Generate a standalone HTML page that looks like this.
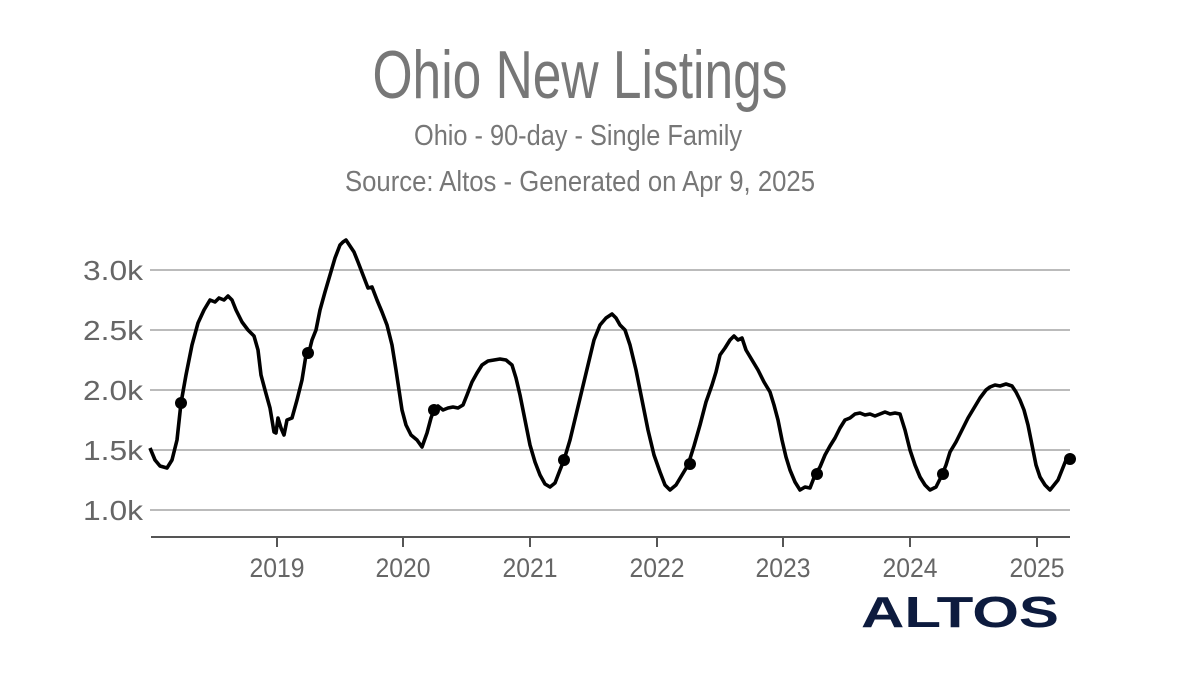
<!DOCTYPE html>
<html><head><meta charset="utf-8"><style>html,body{margin:0;padding:0;background:#fff;}svg{display:block}</style></head>
<body>
<svg width="1200" height="676" viewBox="0 0 1200 676" xmlns="http://www.w3.org/2000/svg" font-family="'Liberation Sans Narrow','Liberation Sans',sans-serif">
<text x="580" y="98" text-anchor="middle" font-size="68" fill="#777" textLength="415" lengthAdjust="spacingAndGlyphs">Ohio New Listings</text>
<text x="578" y="145" text-anchor="middle" font-size="29" fill="#777" textLength="328" lengthAdjust="spacingAndGlyphs">Ohio - 90-day - Single Family</text>
<text x="580" y="191" text-anchor="middle" font-size="29" fill="#777" textLength="470" lengthAdjust="spacingAndGlyphs">Source: Altos - Generated on Apr 9, 2025</text>
<g stroke="#bbb" stroke-width="2">
<line x1="150" y1="270" x2="1070" y2="270"/><line x1="150" y1="330" x2="1070" y2="330"/><line x1="150" y1="390" x2="1070" y2="390"/><line x1="150" y1="450" x2="1070" y2="450"/><line x1="150" y1="510" x2="1070" y2="510"/>
</g>
<g font-size="28" fill="#666" text-anchor="end">
<text x="143" y="280" textLength="60" lengthAdjust="spacingAndGlyphs">3.0k</text>
<text x="143" y="340" textLength="60" lengthAdjust="spacingAndGlyphs">2.5k</text>
<text x="143" y="400" textLength="60" lengthAdjust="spacingAndGlyphs">2.0k</text>
<text x="143" y="460" textLength="60" lengthAdjust="spacingAndGlyphs">1.5k</text>
<text x="143" y="520" textLength="60" lengthAdjust="spacingAndGlyphs">1.0k</text>
</g>
<line x1="151" y1="537" x2="1070" y2="537" stroke="#555" stroke-width="2"/>
<g stroke="#555" stroke-width="2">
<line x1="277" y1="537" x2="277" y2="547"/><line x1="403" y1="537" x2="403" y2="547"/><line x1="530" y1="537" x2="530" y2="547"/><line x1="657" y1="537" x2="657" y2="547"/><line x1="783" y1="537" x2="783" y2="547"/><line x1="910" y1="537" x2="910" y2="547"/><line x1="1037" y1="537" x2="1037" y2="547"/>
</g>
<g font-size="27" fill="#666" text-anchor="middle">
<text x="277" y="577" textLength="55" lengthAdjust="spacingAndGlyphs">2019</text>
<text x="403" y="577" textLength="55" lengthAdjust="spacingAndGlyphs">2020</text>
<text x="530" y="577" textLength="55" lengthAdjust="spacingAndGlyphs">2021</text>
<text x="657" y="577" textLength="55" lengthAdjust="spacingAndGlyphs">2022</text>
<text x="783" y="577" textLength="55" lengthAdjust="spacingAndGlyphs">2023</text>
<text x="910" y="577" textLength="55" lengthAdjust="spacingAndGlyphs">2024</text>
<text x="1037" y="577" textLength="55" lengthAdjust="spacingAndGlyphs">2025</text>
</g>
<polyline fill="none" stroke="#000" stroke-width="3.6" stroke-linejoin="round" points="150,448 155,460 160,466 167,468 172,460 177,440 181,403 186,375 192,345 198,323 204,310 210,300 215,302 219,298 224,300 228,296 232,300 236,310 242,322 248,330 254,336 258,350 261,375 265,390 270,408 274,432 276,433 278,418 281,428 284,435 287,420 292,418 297,400 302,380 306,355 309,352 312,340 316,330 320,310 325,292 330,275 335,258 340,245 343,242 346,240 350,246 354,252 358,262 363,275 368,288 372,287 377,300 382,312 387,325 392,345 396,370 399,390 402,410 406,425 411,435 417,440 422,447 427,433 431,418 434,410 438,406 443,410 448,408 453,407 458,408 463,405 467,395 472,382 477,373 482,365 488,361 494,360 500,359 506,360 512,365 516,378 520,395 525,420 530,445 535,462 540,475 545,484 550,487 555,483 560,470 564,460 570,440 576,415 582,390 588,365 594,340 600,325 606,318 612,314 616,318 620,325 625,330 630,345 636,370 642,400 648,430 654,455 660,472 665,485 670,490 676,485 682,475 688,465 694,446 700,425 706,402 712,385 716,372 720,355 725,348 730,340 734,336 738,340 742,338 746,350 752,360 758,370 764,382 770,392 774,405 778,420 782,440 786,457 790,470 795,482 800,490 805,487 810,488 815,475 820,467 825,455 830,446 835,438 840,428 845,420 850,418 855,414 860,413 865,415 870,414 875,416 880,414 885,412 890,414 895,413 900,414 905,430 910,450 915,465 920,477 925,485 930,490 936,487 942,475 946,465 950,452 956,442 962,430 968,418 974,408 980,398 986,390 990,387 995,385 1000,386 1006,384 1012,386 1016,392 1020,400 1024,410 1028,425 1032,445 1036,465 1040,477 1045,485 1050,490 1054,485 1058,480 1062,470 1066,460 1070,458"/>
<g fill="#000">
<circle cx="181" cy="403" r="6"/><circle cx="308" cy="353" r="6"/><circle cx="434" cy="410" r="6"/><circle cx="564" cy="460" r="6"/><circle cx="690" cy="464" r="6"/><circle cx="817" cy="474" r="6"/><circle cx="943" cy="474" r="6"/><circle cx="1070" cy="459" r="6"/>
</g>
<text x="960" y="627" text-anchor="middle" font-family="'Liberation Sans',sans-serif" font-weight="bold" font-size="44" fill="#0d1b3e" textLength="198" lengthAdjust="spacingAndGlyphs">ALTOS</text>
</svg>
</body></html>
